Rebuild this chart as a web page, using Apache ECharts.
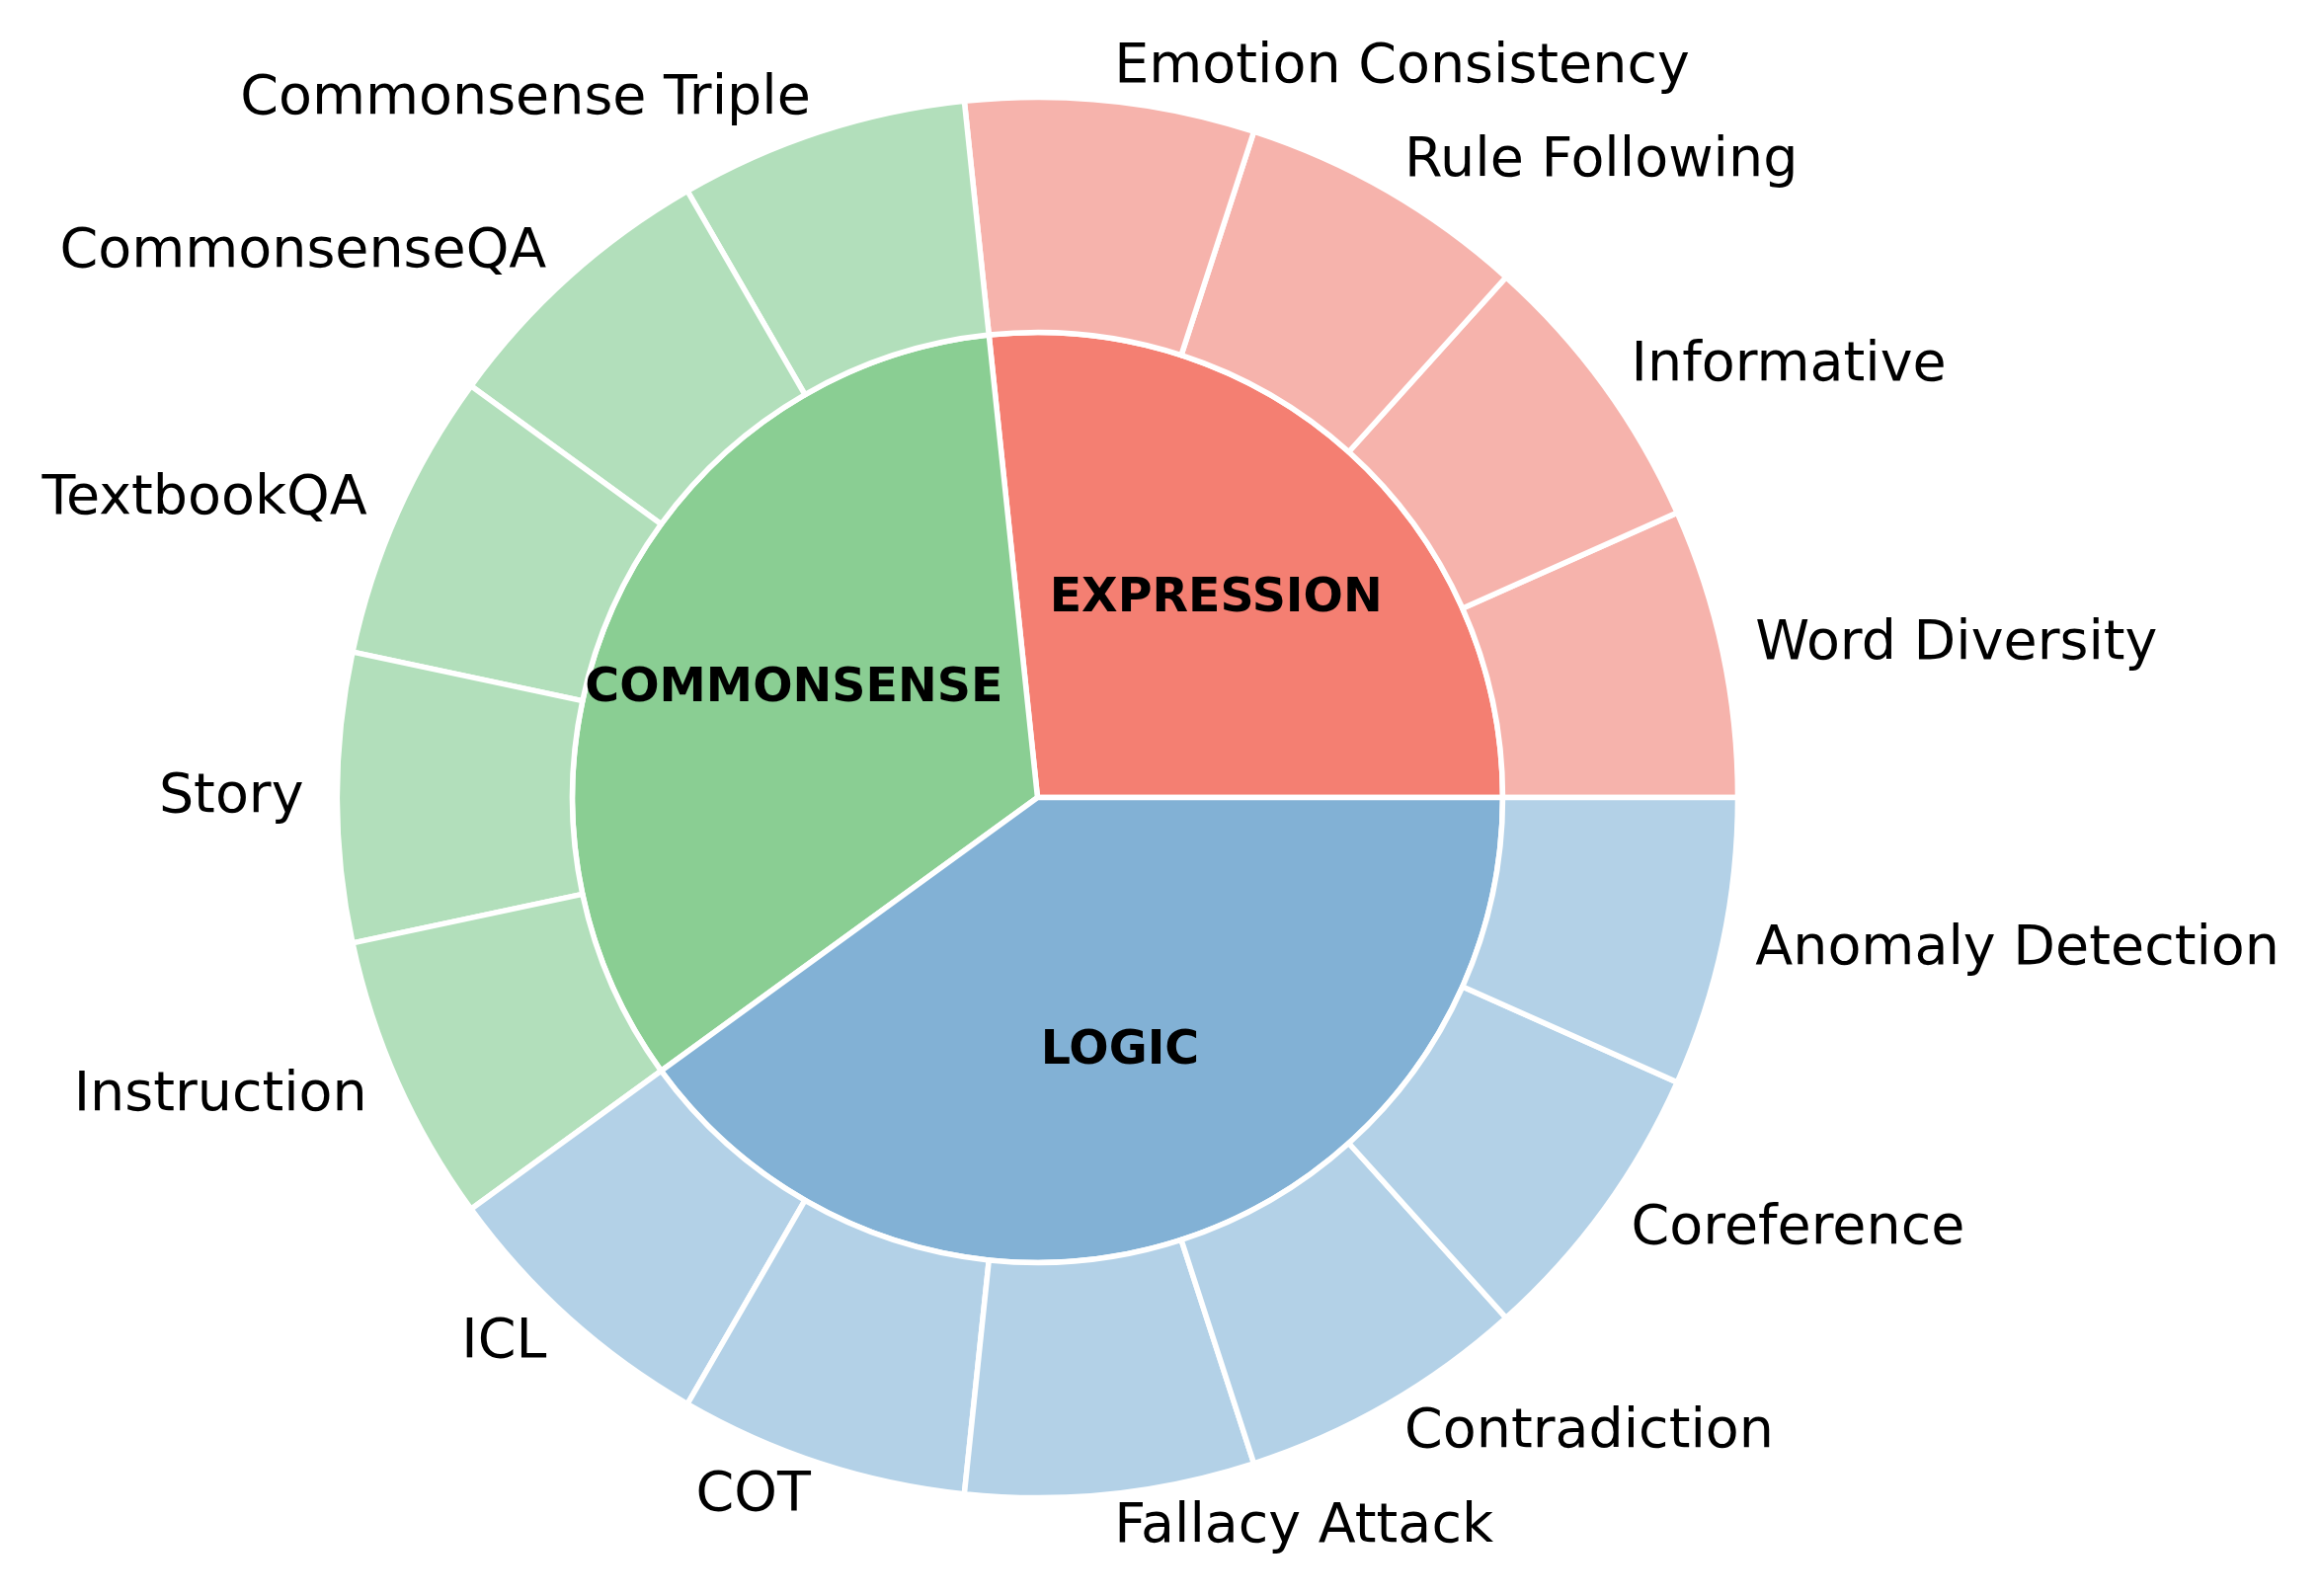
<!DOCTYPE html>
<html>
<head>
<meta charset="utf-8">
<script src="https://cdn.jsdelivr.net/npm/echarts@6/dist/echarts.min.js"></script>
<style>
  html, body { margin: 0; padding: 0; background: #fff; }
  #chart { width: 2349px; height: 1616px; }
</style>
</head>
<body>
<div id="chart"></div>
<script>
// inner ring: categories and their sizes
const groupNames = ['EXPRESSION', 'COMMONSENSE', 'LOGIC']
const groupValues = [4, 5, 6]
const groupColors = ['#F47F72', '#8ACE93', '#82B1D5']
const subColors = ['#F6B3AC', '#B2DFBB', '#B3D1E7']

// outer ring: sub-tasks, counter-clockwise from 3 o'clock
const taskNames = [
  'Word Diversity', 'Informative', 'Rule Following', 'Emotion Consistency',
  'Commonsense Triple', 'CommonsenseQA', 'TextbookQA', 'Story', 'Instruction',
  'ICL', 'COT', 'Fallacy Attack', 'Contradiction', 'Coreference', 'Anomaly Detection'
]
const taskValues = [1, 1, 1, 1, 1, 1, 1, 1, 1, 1, 1, 1, 1, 1, 1]
const taskGroup = [0, 0, 0, 0, 1, 1, 1, 1, 1, 2, 2, 2, 2, 2, 2]

const CX = 1050.5, CY = 807.5
const R_OUT = 709, R_IN = 471
const FONT = '"DejaVu Sans", sans-serif'

const chart = echarts.init(document.getElementById('chart'))

// mid angle (deg, ccw from east) of each inner wedge, for placing its label
const groupTotal = groupValues.reduce((a, b) => a + b, 0)
let acc = 0
const groupMid = groupValues.map(v => {
  const m = (acc + v / 2) / groupTotal * 360
  acc += v
  return m
})

const border = { borderColor: '#fff', borderWidth: 5.5 }

chart.setOption({
  backgroundColor: '#fff',
  animation: false,
  series: [
    {
      type: 'pie',
      center: [CX, CY],
      radius: [0, R_IN],
      startAngle: 0,
      clockwise: false,
      silent: true,
      avoidLabelOverlap: false,
      data: groupNames.map((n, i) => ({ name: n, value: groupValues[i], itemStyle: { color: groupColors[i] } })),
      itemStyle: border,
      label: {
        show: true, position: 'inside', formatter: '{b}',
        fontFamily: FONT, fontSize: 47.5, fontWeight: 'bold', color: '#000'
      },
      labelLayout: p => {
        const a = groupMid[p.dataIndex] * Math.PI / 180
        return { x: CX + 270 * Math.cos(a), y: CY - 270 * Math.sin(a), align: 'center', verticalAlign: 'middle' }
      },
      labelLine: { show: false }
    },
    {
      type: 'pie',
      center: [CX, CY],
      radius: [R_IN, R_OUT],
      startAngle: 0,
      clockwise: false,
      silent: true,
      avoidLabelOverlap: false,
      data: taskNames.map((n, i) => ({ name: n, value: taskValues[i], itemStyle: { color: subColors[taskGroup[i]] } })),
      itemStyle: border,
      label: {
        show: true, position: 'outside', formatter: '{b}', distanceToLabelLine: 0,
        fontFamily: FONT, fontSize: 55.5, color: '#000'
      },
      labelLine: { show: false, length: 34, length2: 0 }
    }
  ]
})
</script>
</body>
</html>
